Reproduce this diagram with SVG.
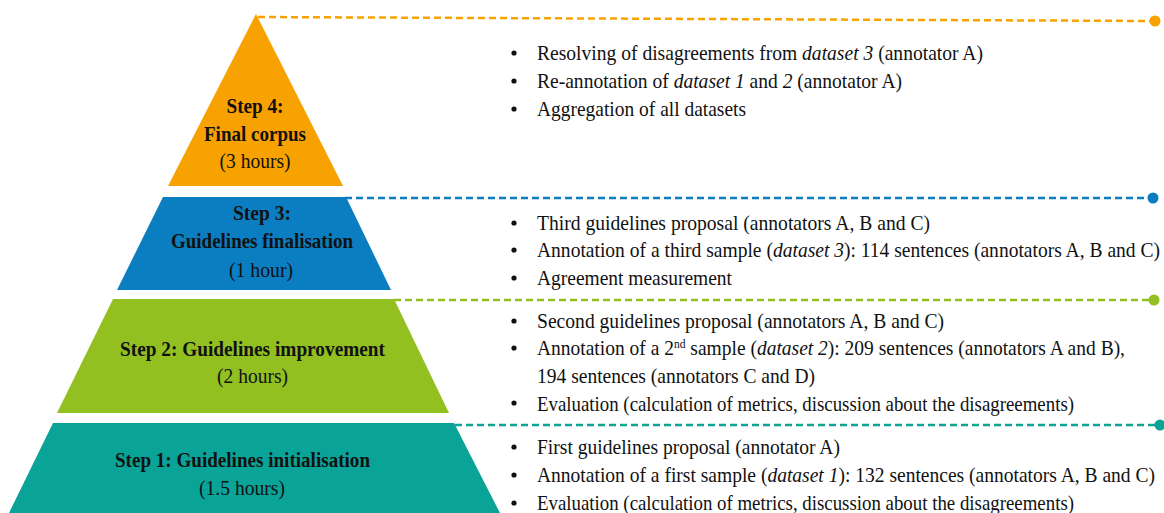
<svg xmlns="http://www.w3.org/2000/svg" width="1164" height="513" viewBox="0 0 1164 513">
<style>
.lbl{font-family:"Liberation Serif","Times New Roman",serif;font-size:22px;fill:#111;text-anchor:middle}
.b{font-weight:bold}
.txt{font-family:"Liberation Serif","Times New Roman",serif;font-size:22px;fill:#111}
.i{font-style:italic}
.dash{fill:none;stroke-width:2.5;stroke-dasharray:7 4}
.bul{fill:#111}
</style>
<rect width="1164" height="513" fill="#fff"/>
<g id="connectors">
<line class="dash" x1="258" y1="17" x2="1152" y2="21" stroke="#F7A200"/>
<circle cx="1155" cy="21" r="5.5" fill="#F7A200"/>
<line class="dash" x1="345" y1="198" x2="1150" y2="198" stroke="#0B7DC1"/>
<circle cx="1153" cy="198" r="5.5" fill="#0B7DC1"/>
<line class="dash" x1="394" y1="300" x2="1151" y2="300" stroke="#92C021"/>
<circle cx="1154" cy="300" r="5.5" fill="#92C021"/>
<line class="dash" x1="455" y1="425" x2="1157" y2="425" stroke="#0AA398"/>
<circle cx="1160" cy="425" r="5.5" fill="#0AA398"/>
</g>
<g id="step4">
<polygon points="256,14 343,186 168,186" fill="#F7A200"/>
<text class="lbl b" x="255" y="113" textLength="57" lengthAdjust="spacingAndGlyphs">Step 4:</text>
<text class="lbl b" x="255" y="141" textLength="102" lengthAdjust="spacingAndGlyphs">Final corpus</text>
<text class="lbl" x="255" y="168" textLength="71" lengthAdjust="spacingAndGlyphs">(3 hours)</text>
</g>
<g id="step3">
<polygon points="163,197 346,197 391,290 117,290" fill="#0B7DC1"/>
<text class="lbl b" x="262" y="220" textLength="58" lengthAdjust="spacingAndGlyphs">Step 3:</text>
<text class="lbl b" x="262" y="248" textLength="182" lengthAdjust="spacingAndGlyphs">Guidelines finalisation</text>
<text class="lbl" x="261" y="277" textLength="64" lengthAdjust="spacingAndGlyphs">(1 hour)</text>
</g>
<g id="step2">
<polygon points="113,299 394,299 449,413 57,413" fill="#92C021"/>
<text class="lbl b" x="252.5" y="356" textLength="265" lengthAdjust="spacingAndGlyphs">Step 2: Guidelines improvement</text>
<text class="lbl" x="252.5" y="383" textLength="71" lengthAdjust="spacingAndGlyphs">(2 hours)</text>
</g>
<g id="step1">
<polygon points="53,423 454,423 500,513 9,513" fill="#0AA398"/>
<text class="lbl b" x="242.5" y="467" textLength="255" lengthAdjust="spacingAndGlyphs">Step 1: Guidelines initialisation</text>
<text class="lbl" x="242" y="495" textLength="86" lengthAdjust="spacingAndGlyphs">(1.5 hours)</text>
</g>
<g id="bullets4">
<circle class="bul" cx="514" cy="53" r="2.6"/>
<circle class="bul" cx="514" cy="81" r="2.6"/>
<circle class="bul" cx="514" cy="109" r="2.6"/>
<text class="txt" x="537" y="60" textLength="446" lengthAdjust="spacingAndGlyphs">Resolving of disagreements from <tspan class="i">dataset 3</tspan> (annotator A)</text>
<text class="txt" x="537" y="88" textLength="365" lengthAdjust="spacingAndGlyphs">Re-annotation of <tspan class="i">dataset 1</tspan> and <tspan class="i">2</tspan> (annotator A)</text>
<text class="txt" x="537" y="116" textLength="209" lengthAdjust="spacingAndGlyphs">Aggregation of all datasets</text>
</g>
<g id="bullets3">
<circle class="bul" cx="514" cy="223" r="2.6"/>
<circle class="bul" cx="514" cy="250" r="2.6"/>
<circle class="bul" cx="514" cy="278" r="2.6"/>
<text class="txt" x="537" y="230" textLength="393" lengthAdjust="spacingAndGlyphs">Third guidelines proposal (annotators A, B and C)</text>
<text class="txt" x="537" y="257" textLength="623" lengthAdjust="spacingAndGlyphs">Annotation of a third sample (<tspan class="i">dataset 3</tspan>): 114 sentences (annotators A, B and C)</text>
<text class="txt" x="537" y="285" textLength="195" lengthAdjust="spacingAndGlyphs">Agreement measurement</text>
</g>
<g id="bullets2">
<circle class="bul" cx="514" cy="321" r="2.6"/>
<circle class="bul" cx="514" cy="348" r="2.6"/>
<circle class="bul" cx="514" cy="403" r="2.6"/>
<text class="txt" x="537" y="328" textLength="407" lengthAdjust="spacingAndGlyphs">Second guidelines proposal (annotators A, B and C)</text>
<text class="txt" x="537" y="355" textLength="588" lengthAdjust="spacingAndGlyphs">Annotation of a 2<tspan dy="-7" font-size="13">nd</tspan><tspan dy="7"> sample (</tspan><tspan class="i">dataset 2</tspan>): 209 sentences (annotators A and B),</text>
<text class="txt" x="537" y="383" textLength="278" lengthAdjust="spacingAndGlyphs">194 sentences (annotators C and D)</text>
<text class="txt" x="537" y="411" textLength="537" lengthAdjust="spacingAndGlyphs">Evaluation (calculation of metrics, discussion about the disagreements)</text>
</g>
<g id="bullets1">
<circle class="bul" cx="514" cy="447" r="2.6"/>
<circle class="bul" cx="514" cy="475" r="2.6"/>
<circle class="bul" cx="514" cy="503" r="2.6"/>
<text class="txt" x="537" y="454" textLength="303" lengthAdjust="spacingAndGlyphs">First guidelines proposal (annotator A)</text>
<text class="txt" x="537" y="482" textLength="618" lengthAdjust="spacingAndGlyphs">Annotation of a first sample (<tspan class="i">dataset 1</tspan>): 132 sentences (annotators A, B and C)</text>
<text class="txt" x="537" y="510" textLength="537" lengthAdjust="spacingAndGlyphs">Evaluation (calculation of metrics, discussion about the disagreements)</text>
</g>
</svg>
